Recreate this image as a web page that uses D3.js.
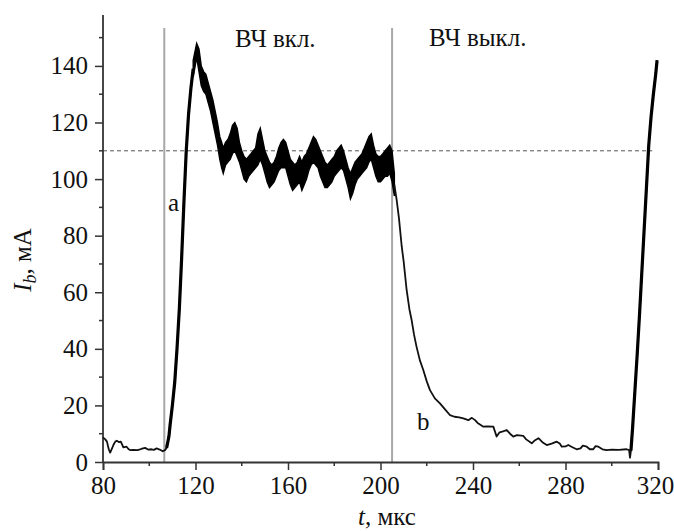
<!DOCTYPE html>
<html>
<head>
<meta charset="utf-8">
<script src="https://cdn.jsdelivr.net/npm/d3@7"></script>
<style>
  body { margin: 0; background: #fff; }
</style>
</head>
<body>
<div id="chart"></div>
<script>
// beam current trace, smooth parts (t in us, I in mA)
var curveT = [80, 81, 81.7, 82.5, 83.1, 84, 84.5, 85.3, 86, 87, 87.7, 88.8, 90.2, 91, 91.7, 93, 95, 96.5, 98.2, 99.5,
  101, 102, 103.2, 104.5, 105.8, 106.8, 107.5, 108, 108.5, 109, 110, 111, 112, 113, 114, 115, 116, 117, 118, 119,
  206, 207, 208, 209.2, 210, 211.3, 212.5, 213.5, 214.5, 215.6, 217, 218.5, 220, 221.4, 223.5, 225.7, 228, 230, 232, 234,
  235.8, 238, 239.5, 240.9, 242, 244.5, 246, 248.8, 250.2, 251.5, 253, 254.6, 256, 257.4, 259, 261.8, 263, 265.4, 266.5, 268.3,
  270, 271.9, 274, 276.2, 277.5, 278.4, 280, 281.2, 283, 284.8, 286.5, 287.5, 289.2, 290.5, 292, 293, 294.2, 296, 297.8, 300,
  303, 306.4, 307.5, 307.9, 308.3, 309, 310, 311, 312, 313, 314, 315, 316, 317, 318, 319, 319.6];
var curveI = [8.7, 8, 7.2, 4.5, 3.3, 5, 6, 7.2, 7.5, 7, 7.2, 5.2, 5.4, 4.6, 4.2, 4.3, 4.2, 4.6, 5, 4.4,
  4.5, 4.3, 4.8, 4.4, 3.8, 4.2, 5, 7, 9, 13, 20, 28, 40, 54, 72, 92, 110, 123, 132, 139,
  98, 92.6, 86, 76, 71, 60.8, 54, 50, 45, 40.7, 36, 32.5, 28.5, 25.4, 22.5, 20.7, 18.5, 16.6, 16, 15.8,
  15.4, 14.8, 15.6, 14.8, 13.8, 12.5, 12.6, 12.5, 9, 10.5, 10.8, 11.3, 10, 9, 9.5, 9.2, 8, 6.6, 7.5, 8.4,
  7, 6, 6.5, 7.2, 6.5, 5.4, 5.5, 6, 5.2, 4.5, 4.8, 5.8, 5.4, 4.5, 4.5, 5.6, 5.4, 4.5, 4.2, 4.4,
  4.3, 4.5, 4.2, 1.5, 4, 12, 25, 38, 52, 67, 82, 97, 112, 122, 130, 137, 142];

// noisy part while RF is on: lower / upper envelope of the band
var bandT = [119, 120.5, 121.5, 122.5, 123.5, 124.5, 125.5, 126.5, 127.5, 128.5, 129.5, 130.5, 131.3, 132, 133, 134, 135, 136, 137, 138,
  139, 140, 141, 142, 143, 144, 145, 146, 147, 148, 149, 150, 151, 152, 153, 154, 155, 156, 157, 158,
  159, 160, 161, 162, 163, 164, 165, 166, 167, 168, 169, 170, 171, 172, 173, 174, 175, 176, 177, 178,
  179, 180, 181, 182, 183, 184, 185, 186, 187, 188, 189, 190, 191, 192, 193, 194, 195, 196, 197, 198,
  199, 200, 201, 202, 203, 204, 205, 206];
var bandLo = [136, 143, 138, 133, 131, 130, 127, 124, 120, 116, 112, 107, 104, 102, 105, 106, 107, 109, 110, 108,
  106, 103, 100, 99, 101, 102, 103, 104, 105, 107, 105, 102, 99, 97, 98, 99, 101, 103, 104, 104,
  104, 101, 98, 96, 97, 98, 99, 96, 98, 100, 103, 105, 106, 105, 104, 101, 99, 97, 97, 98,
  99, 101, 102, 103, 104, 103, 100, 97, 93, 95, 98, 100, 101, 102, 103, 104, 106, 107, 104, 101,
  99, 99, 100, 101, 101, 102, 99, 94];
var bandHi = [142, 148, 146, 140, 138, 137, 134, 131, 128, 124, 120, 115, 113, 111, 113, 114, 116, 119, 120, 118,
  113, 110, 108, 107, 108, 109, 110, 111, 116, 118, 114, 110, 108, 106, 105, 106, 108, 111, 113, 114,
  113, 110, 107, 106, 105, 106, 108, 106, 108, 109, 111, 113, 115, 114, 112, 110, 108, 106, 105, 106,
  107, 108, 110, 111, 112, 110, 107, 104, 102, 104, 106, 107, 108, 109, 111, 113, 115, 116, 112, 109,
  108, 108, 109, 110, 111, 112, 110, 102];

var xTicks = [80, 120, 160, 200, 240, 280, 320];
var yTicks = [0, 20, 40, 60, 80, 100, 120, 140];
var rfOn = 106.5, rfOff = 205;   // gray markers
var refLevel = 110;              // dashed level

var serif = "'Liberation Serif'";
var width = 674, height = 531;
var svg = d3.select("#chart").append("svg")
    .attr("width", width)
    .attr("height", height);

var x = d3.scaleLinear().domain([80, 320]).range([103, 658]);
var y = d3.scaleLinear().domain([0, 158]).range([462, 15]);

// gray vertical markers
[rfOn, rfOff].forEach(function(t) {
    svg.append("line")
        .attr("x1", x(t)).attr("x2", x(t))
        .attr("y1", 28).attr("y2", y(0))
        .style("stroke", "#a8a8a8")
        .style("stroke-width", 2);
});

// dashed reference
svg.append("line")
    .attr("x1", x(80)).attr("x2", x(317.5))
    .attr("y1", y(refLevel)).attr("y2", y(refLevel))
    .style("stroke", "#555")
    .style("stroke-width", 1)
    .style("stroke-dasharray", "4,3");

// axes
var xAxis = svg.append("g")
    .attr("transform", "translate(0," + y(0) + ")")
    .call(d3.axisBottom(x).tickValues(xTicks).tickSize(8).tickPadding(6).tickFormat(d3.format("d")));
var yAxis = svg.append("g")
    .attr("transform", "translate(" + x(80) + ",0)")
    .call(d3.axisLeft(y).tickValues(yTicks).tickSize(8).tickPadding(7).tickFormat(d3.format("d")));

[xAxis, yAxis].forEach(function(g) {
    g.attr("font-family", serif).attr("font-size", 25);
    g.select(".domain").style("stroke", "#333").style("stroke-width", 1.8);
    g.selectAll(".tick line").style("stroke", "#333").style("stroke-width", 1.5);
    g.selectAll("text")
        .attr("font-size", 25)
        .style("font-family", serif)
        .style("font-size", "25px")
        .style("fill", "#111");
});
yAxis.select(".domain").attr("d", "M0," + y(0) + "V" + y(158));
xAxis.selectAll(".tick text").filter(function(d) { return d === 320; }).attr("dx", -3);

// minor ticks
svg.append("g").selectAll("line")
    .data(d3.range(100, 320, 40))
    .enter().append("line")
    .attr("x1", function(d) { return x(d); }).attr("x2", function(d) { return x(d); })
    .attr("y1", y(0)).attr("y2", y(0) + 4)
    .style("stroke", "#333").style("stroke-width", 1.5);
svg.append("g").selectAll("line")
    .data(d3.range(10, 160, 20))
    .enter().append("line")
    .attr("x1", x(80)).attr("x2", x(80) - 4)
    .attr("y1", function(d) { return y(d); }).attr("y2", function(d) { return y(d); })
    .style("stroke", "#333").style("stroke-width", 1.5);

// noisy band
var band = bandT.map(function(t, i) { return {t: t, lo: bandLo[i], hi: bandHi[i]}; });
svg.append("path")
    .datum(band)
    .attr("d", d3.area()
        .x(function(d) { return x(d.t); })
        .y0(function(d) { return y(d.lo); })
        .y1(function(d) { return y(d.hi); }))
    .style("fill", "#000")
    .style("stroke", "#000")
    .style("stroke-width", 1.4);

// trace
var pts = curveT.map(function(t, i) { return {t: t, v: curveI[i]}; });
var line = d3.line()
    .x(function(d) { return x(d.t); })
    .y(function(d) { return y(d.v); });
var segA = pts.filter(function(d) { return d.t <= 119; });
var segB = pts.filter(function(d) { return d.t >= 206; });
[segA, segB].forEach(function(seg) {
    svg.append("path")
        .datum(seg)
        .attr("d", line)
        .style("fill", "none")
        .style("stroke", "#111")
        .style("stroke-width", 1.8)
        .style("stroke-linejoin", "round");
});
// rising fronts look thicker
[pts.filter(function(d) { return d.t >= 107.5 && d.t <= 119; }),
 pts.filter(function(d) { return d.t >= 308.3; })].forEach(function(seg) {
    svg.append("path")
        .datum(seg)
        .attr("d", line)
        .style("fill", "none")
        .style("stroke", "#000")
        .style("stroke-width", 3.2)
        .style("stroke-linejoin", "round");
});

// annotations
function label(tx, ty, s) {
    return svg.append("text").attr("x", tx).attr("y", ty)
        .style("font-family", serif).style("font-size", "25px").style("fill", "#111").text(s);
}
label(235, 47, "ВЧ вкл.");
label(429, 46, "ВЧ выкл.");
label(168, 211, "a");
label(417, 430, "b");

// axis titles
var xt = svg.append("text")
    .attr("x", 387).attr("y", 525)
    .attr("text-anchor", "middle")
    .style("font-family", serif)
    .style("font-size", "25px")
    .style("fill", "#111");
xt.append("tspan").style("font-style", "italic").text("t");
xt.append("tspan").text(", мкс");

var yt = svg.append("text")
    .attr("transform", "translate(31,260) rotate(-90)")
    .attr("text-anchor", "middle")
    .style("font-family", serif)
    .style("font-size", "25px")
    .style("fill", "#111");
yt.append("tspan").style("font-style", "italic").text("I");
yt.append("tspan").style("font-style", "italic").style("font-size", "18px").attr("dy", 5).text("b");
yt.append("tspan").attr("dy", -5).text(", мА");
</script>
</body>
</html>
